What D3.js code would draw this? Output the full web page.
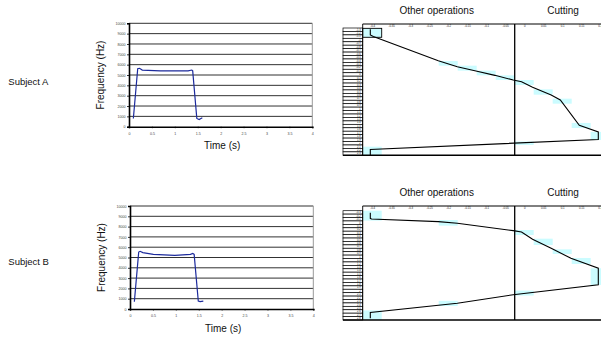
<!DOCTYPE html>
<html>
<head>
<meta charset="utf-8">
<script src="https://cdn.jsdelivr.net/npm/d3@7"></script>
<style>
  body { margin: 0; background: #fff; }
  svg { display: block; font-family: "Liberation Sans", Arial, sans-serif; }
</style>
</head>
<body>
<div id="chart"></div>
<script>
// ---- data ----
const subjects = ["Subject A", "Subject B"];

// frequency traces (time in s, frequency in Hz)
const timeA = [0.095, 0.19, 0.23, 0.29, 0.68, 1.29, 1.37, 1.39, 1.48, 1.53, 1.6];
const freqA = [800, 5600, 5650, 5480, 5400, 5400, 5480, 5400, 800, 700, 870];
const timeB = [0.095, 0.19, 0.22, 0.28, 0.51, 0.98, 1.32, 1.37, 1.40, 1.49, 1.53, 1.6];
const freqB = [710, 5530, 5600, 5470, 5300, 5210, 5300, 5400, 5300, 770, 710, 770];

const freqTicks = [0, 1000, 2000, 3000, 4000, 5000, 6000, 7000, 8000, 9000, 10000];
const timeTicks = [0, 0.5, 1, 1.5, 2, 2.5, 3, 3.5, 4];
const timeTickLabels = ["0", "0.5", "1", "1.5", "2", "2.5", "3", "3.5", "4"];

// profile charts: column bins and row labels
const binValues = [-0.4, -0.35, -0.3, -0.25, -0.2, -0.15, -0.1, -0.05, 0, 0.05, 0.1, 0.15, 0.2];
const binLabels = ["-0.4", "-0.35", "-0.3", "-0.25", "-0.2", "-0.15", "-0.1", "-0.05", "0", "0.05", "0.1", "0.15", "0.2"];
const groupTitles = ["Other operations", "Cutting"];

const rowLabelsA = ["-1.3", "-1.2", "-1.1", "-1", "-0.9", "-0.8", "-0.7", "-0.6", "-0.5", "-0.4", "-0.3", "-0.2", "-0.1", "0",
  "0.1", "0.2", "0.3", "0.4", "0.5", "0.6", "0.7", "0.8", "0.9", "1", "1.1", "1.2", "1.3", "1.4", "1.5", "1.6", "1.7",
  "1.8", "1.9", "2", "2.1", "2.2", "2.3"];
const rowLabelsB = ["-0.3", "-0.2", "-0.1", "0", "0.1", "0.2", "0.3", "0.4", "0.5", "0.6", "0.7", "0.8", "0.9", "1",
  "1.1", "1.2", "1.3", "1.4", "1.5", "1.6", "1.7", "1.8", "1.9", "2", "2.1", "2.2", "2.3", "2.4", "2.5", "2.6", "2.7", "2.8"];

// profile line: value and row position
const profValA = [-0.405, -0.405, -0.397, -0.226, -0.176, -0.127, -0.077, -0.029, -0.007, 0.022, 0.071, 0.095, 0.145, 0.195, 0.195, -0.405, -0.405];
const profRowA = [0.38, 2.03, 2.5, 9.5, 11.26, 12.52, 13.76, 15.12, 15.6, 17.25, 19.48, 20.93, 28.3, 30.2, 32.4, 35.3, 36.9];
const profValB = [-0.405, -0.405, -0.402, -0.226, -0.176, -0.029, -0.007, 0.022, 0.071, 0.123, 0.195, 0.195, -0.029, -0.176, -0.405, -0.405];
const profRowB = [0.58, 2.23, 2.43, 3.21, 3.69, 5.84, 6.23, 8.37, 11.0, 13.93, 16.85, 21.7, 24.6, 27.1, 29.8, 31.5];

// highlighted cells: bin, first row, last row
const cellBinA = [-0.4, -0.2, -0.15, -0.1, -0.05, 0, 0.05, 0.1, 0.15, 0.2, 0, -0.4];
const cellFromA = [0.1, 9.6, 10.95, 12.4, 13.76, 15.12, 17.83, 20.54, 27.6, 30.2, 33.0, 34.5];
const cellToA = [2.7, 10.95, 12.4, 13.76, 15.12, 16.57, 19.38, 22.0, 29.07, 32.56, 34.0, 37.0];
const cellBinB = [-0.4, -0.2, 0, 0.05, 0.1, 0.15, 0.2, 0, -0.2, -0.4];
const cellFromB = [0, 2.72, 5.65, 8.19, 11.31, 13.84, 16.85, 23.4, 26.4, 29.2];
const cellToB = [2.9, 4.38, 7.12, 10.04, 12.67, 15.6, 21.72, 24.85, 27.9, 31.98];

// ---- layout ----
const width = 601, height = 337;
const svg = d3.select("#chart").append("svg")
  .attr("width", width).attr("height", height);

const panels = [
  { subject: subjects[0], labelY: 85,
    freq: { x0: 129, x1: 312.3, y0: 23.3, y1: 126.7 }, times: timeA, freqs: freqA,
    prof: { top: 24, rowTop: 28, bottom: 155.3 }, rows: rowLabelsA,
    vals: profValA, prow: profRowA, cells: [cellBinA, cellFromA, cellToA], boxed: true },
  { subject: subjects[1], labelY: 265,
    freq: { x0: 130, x1: 313.3, y0: 206, y1: 309 }, times: timeB, freqs: freqB,
    prof: { top: 206, rowTop: 210.7, bottom: 320 }, rows: rowLabelsB,
    vals: profValB, prow: profRowB, cells: [cellBinB, cellFromB, cellToB], boxed: false }
];

panels.forEach(p => {
  svg.append("text")
    .attr("x", 8.3).attr("y", p.labelY)
    .attr("font-size", 9.5).attr("fill", "#111")
    .text(p.subject);
  drawFreq(svg.append("g"), p.freq, p.times, p.freqs);
  drawProfile(svg.append("g"), p);
});

function drawFreq(g, b, times, freqs) {
  const x = d3.scaleLinear().domain([0, 4]).range([b.x0, b.x1]);
  const y = d3.scaleLinear().domain([0, 10000]).range([b.y1, b.y0]);

  // gridlines
  g.selectAll("line.grid").data(freqTicks.slice(1)).join("line")
    .attr("x1", b.x0).attr("x2", b.x1)
    .attr("y1", d => y(d)).attr("y2", d => y(d))
    .attr("stroke", "#1a1a1a").attr("stroke-width", 0.9);
  // right border
  g.append("line")
    .attr("x1", b.x1).attr("x2", b.x1).attr("y1", b.y0).attr("y2", b.y1)
    .attr("stroke", "#999").attr("stroke-width", 1);

  const yAxis = g.append("g").attr("transform", `translate(${b.x0},0)`)
    .call(d3.axisLeft(y).tickValues(freqTicks).tickSize(2).tickPadding(1.5)
      .tickFormat(d3.format("d")));
  const xAxis = g.append("g").attr("transform", `translate(0,${b.y1})`)
    .call(d3.axisBottom(x).tickValues(timeTicks).tickSize(1.5).tickPadding(4)
      .tickFormat((d, i) => timeTickLabels[i]));
  [yAxis, xAxis].forEach(a => {
    a.select(".domain").attr("stroke", "#000").attr("stroke-width", 1.6);
    a.selectAll(".tick line").attr("stroke", "#000").attr("stroke-width", 0.8);
    a.selectAll("text").attr("font-size", 3.6).attr("fill", "#444")
      .attr("font-family", "Liberation Sans, Arial, sans-serif");
  });

  g.append("text")
    .attr("transform", `translate(${b.x0 - 25},${(b.y0 + b.y1) / 2}) rotate(-90)`)
    .attr("text-anchor", "middle").attr("font-size", 10).attr("fill", "#111")
    .text("Frequency (Hz)");
  g.append("text")
    .attr("x", (b.x0 + b.x1) / 2 + 1.5).attr("y", b.y1 + 22.5)
    .attr("text-anchor", "middle").attr("font-size", 10).attr("fill", "#111")
    .text("Time (s)");

  const line = d3.line().x(d => x(d[0])).y(d => y(d[1]));
  g.append("path")
    .attr("d", line(times.map((t, i) => [t, freqs[i]])))
    .attr("fill", "none").attr("stroke", "#1c2a9c").attr("stroke-width", 1.2);
}

function drawProfile(g, p) {
  const b = p.prof;
  const left = 362.7, colLeft = 343, right = width;
  const x = d3.scaleLinear().domain([-0.425, 0.225]).range([left, left + 13 * 19]);
  const y = d3.scaleLinear().domain([0, p.rows.length]).range([b.rowTop, b.bottom]);
  const rowBand = d3.scaleBand().domain(p.rows).range([b.rowTop, b.bottom]);
  const half = 0.025;

  // highlighted cells
  const [cBin, cFrom, cTo] = p.cells;
  g.selectAll("rect.cell").data(cBin).join("rect")
    .attr("x", d => x(d - half)).attr("width", d => x(d + half) - x(d - half))
    .attr("y", (d, i) => y(cFrom[i])).attr("height", (d, i) => y(cTo[i]) - y(cFrom[i]))
    .attr("fill", "#cbfcff");
  if (p.boxed) {
    g.append("rect")
      .attr("x", x(cBin[0] - half)).attr("width", x(cBin[0] + half) - x(cBin[0] - half))
      .attr("y", y(cFrom[0])).attr("height", y(cTo[0]) - y(cFrom[0]))
      .attr("fill", "none").attr("stroke", "#000").attr("stroke-width", 0.9);
  }

  // row boxes
  g.selectAll("rect.row").data(p.rows).join("rect")
    .attr("x", colLeft).attr("width", left - colLeft)
    .attr("y", d => rowBand(d)).attr("height", rowBand.bandwidth())
    .attr("fill", "#fff").attr("stroke", "#000").attr("stroke-width", 0.7);
  const rowAxis = g.append("g").attr("transform", `translate(${left - 1.5},0)`)
    .call(d3.axisLeft(rowBand).tickSize(0).tickPadding(0.5));
  rowAxis.select(".domain").remove();
  rowAxis.selectAll("text").attr("font-size", 2.7).attr("fill", "#222")
    .attr("font-family", "Liberation Sans, Arial, sans-serif");

  // top axis with bin labels (labels sit just under the line)
  const topAxis = g.append("g").attr("transform", `translate(0,${b.top})`)
    .call(d3.axisBottom(x).tickValues(binValues).tickSize(0).tickPadding(1.2)
      .tickFormat((d, i) => binLabels[i]));
  topAxis.select(".domain").remove();
  topAxis.selectAll("text").attr("font-size", 2.8).attr("fill", "#222")
    .attr("font-family", "Liberation Sans, Arial, sans-serif");
  // the last bin label meets the page edge: keep it inside
  topAxis.selectAll(".tick").filter((d, i) => i === binValues.length - 1)
    .select("text").attr("text-anchor", "end").attr("dx", 1.5);
  g.append("line")
    .attr("x1", left).attr("x2", right).attr("y1", b.top).attr("y2", b.top)
    .attr("stroke", "#000").attr("stroke-width", 1);
  g.append("line")
    .attr("x1", left).attr("x2", left).attr("y1", b.top).attr("y2", b.bottom)
    .attr("stroke", "#000").attr("stroke-width", 0.9);
  // separator between the two groups
  g.append("line")
    .attr("x1", x(-half)).attr("x2", x(-half)).attr("y1", b.top).attr("y2", b.bottom)
    .attr("stroke", "#000").attr("stroke-width", 1.3);
  g.append("line")
    .attr("x1", colLeft).attr("x2", right).attr("y1", b.bottom).attr("y2", b.bottom)
    .attr("stroke", "#000").attr("stroke-width", 1.6);

  // group titles
  g.append("text").attr("x", 436.7).attr("y", b.top - 9.8)
    .attr("text-anchor", "middle").attr("font-size", 10).attr("fill", "#111")
    .text(groupTitles[0]);
  g.append("text").attr("x", 563).attr("y", b.top - 9.8)
    .attr("text-anchor", "middle").attr("font-size", 10).attr("fill", "#111")
    .text(groupTitles[1]);

  const line = d3.line().x(d => x(d[0])).y(d => y(d[1]));
  g.append("path")
    .attr("d", line(p.vals.map((v, i) => [v, p.prow[i]])))
    .attr("fill", "none").attr("stroke", "#000").attr("stroke-width", 1.1);
}
</script>
</body>
</html>
